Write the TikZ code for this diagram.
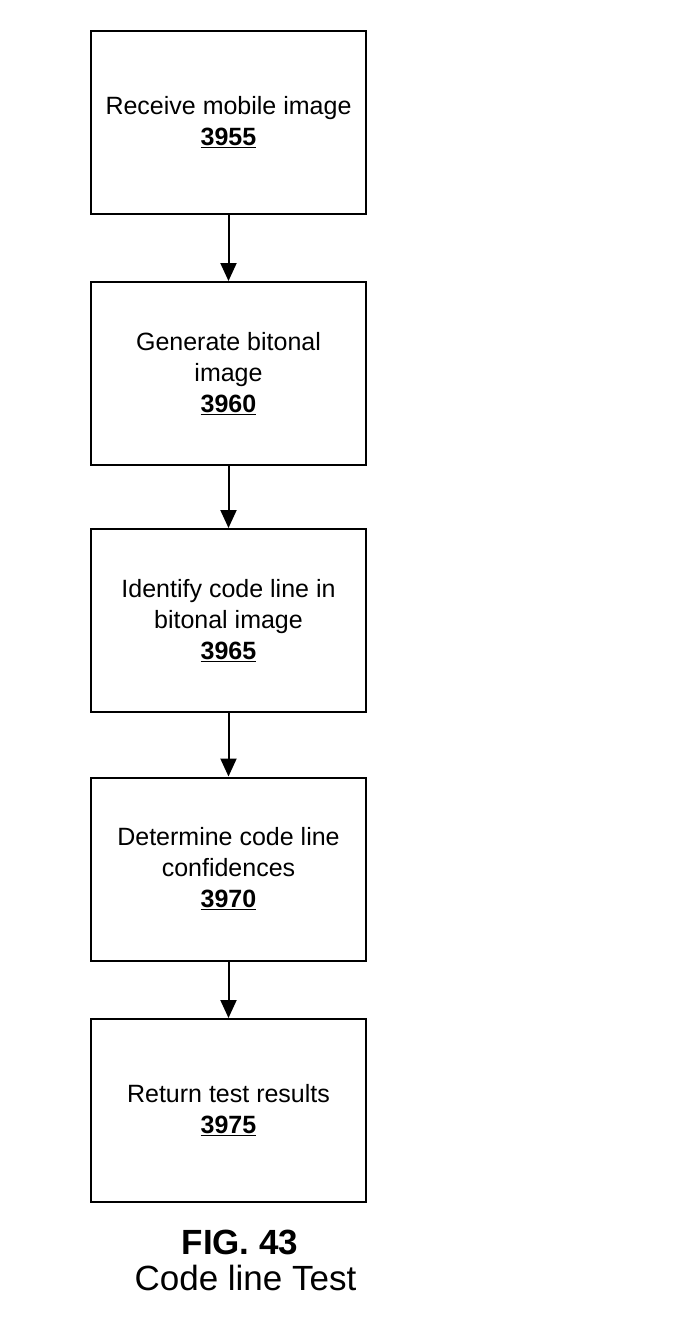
\documentclass[tikz,border=0pt]{standalone}
\usepackage{fontspec}
\setmainfont{Liberation Sans}
\usetikzlibrary{arrows.meta}
\begin{document}
\begin{tikzpicture}[x=1pt,y=-1pt,
  stepbox/.style={draw=black,line width=2pt,minimum width=275pt,minimum height=183pt,
    align=center,inner sep=0pt,font=\fontsize{25}{31}\selectfont},
  flow/.style={line width=2pt,-{Triangle[length=18pt,width=16pt]}}]
\useasboundingbox (0,0) rectangle (676,1339);
\node[stepbox] (b1) at (228.5,122) {Receive mobile image\\\underline{\textbf{3955}}};
\node[stepbox] (b2) at (228.5,373.5) {Generate bitonal\\image\\\underline{\textbf{3960}}};
\node[stepbox] (b3) at (228.5,620.5) {Identify code line in\\bitonal image\\\underline{\textbf{3965}}};
\node[stepbox] (b4) at (228.5,869) {Determine code line\\confidences\\\underline{\textbf{3970}}};
\node[stepbox] (b5) at (228.5,1110.5) {Return test results\\\underline{\textbf{3975}}};
\draw[flow] (b1) -- (b2);
\draw[flow] (b2) -- (b3);
\draw[flow] (b3) -- (b4);
\draw[flow] (b4) -- (b5);
\node[font=\fontsize{35}{37}\selectfont\bfseries] (fig) at (240,1242) {FIG. 43};
\node[font=\fontsize{35}{37}\selectfont] (cap) at (245.5,1278) {Code line Test};
\end{tikzpicture}
\end{document}
